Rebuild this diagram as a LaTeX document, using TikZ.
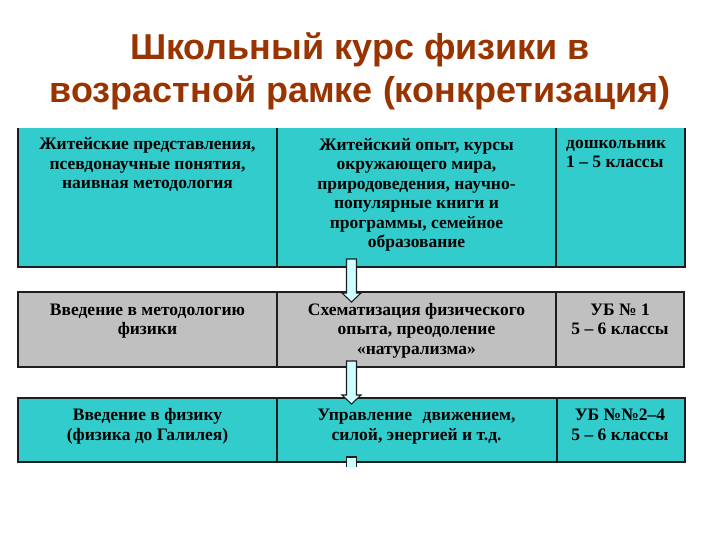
\documentclass[tikz,border=0pt]{standalone}
\usepackage{fontspec}
\setmainfont{Liberation Serif}
\newfontfamily\titlefont{Liberation Sans}
\usetikzlibrary{calc}
\definecolor{cellcyan}{RGB}{51,204,204}
\definecolor{cellgray}{RGB}{192,192,192}
\definecolor{arrowfill}{RGB}{204,255,255}
\definecolor{titlebrown}{RGB}{153,51,0}
\definecolor{edge}{RGB}{30,30,30}
\tikzset{
  cellbox/.style={inner sep=0pt, outer sep=0pt, anchor=north west},
  cyancell/.style={cellbox, fill=cellcyan},
  graycell/.style={cellbox, fill=cellgray},
  gridline/.style={draw=edge, line width=1.6pt},
  txt/.style={inner sep=0pt, align=center, text=black,
    font=\fontsize{17.5}{19.5}\selectfont\bfseries},
  titletxt/.style={inner sep=0pt, align=center, text=titlebrown,
    font=\fontsize{36}{43}\selectfont\titlefont\bfseries},
  blockarrow/.style={fill=arrowfill, draw=edge, line width=1.1pt, line join=miter}
}
\begin{document}
\begin{tikzpicture}[x=1pt,y=-1pt]
\useasboundingbox (0,0) rectangle (720,540);
\fill[white] (0,0) rectangle (720,540);

% title (base anchor = baseline of last line)
\node[titletxt, anchor=base] (title) at (360,103) {Школьный курс физики в\\возрастной рамке (конкретизация)};

% row 1
\node[cyancell, minimum width=259pt, minimum height=139pt] (r1c1) at (18,128) {};
\node[cyancell, minimum width=279pt, minimum height=139pt] (r1c2) at (277,128) {};
\node[cyancell, minimum width=129pt, minimum height=139pt] (r1c3) at (556,128) {};
\draw[gridline] (r1c1.north west) -- (r1c1.south west) -- (r1c3.south east) -- (r1c3.north east);
\draw[gridline] (r1c2.north west) -- (r1c2.south west);
\draw[gridline] (r1c3.north west) -- (r1c3.south west);

% row 2
\node[graycell, minimum width=259pt, minimum height=75pt] (r2c1) at (18,292) {};
\node[graycell, minimum width=279pt, minimum height=75pt] (r2c2) at (277,292) {};
\node[graycell, minimum width=128pt, minimum height=75pt] (r2c3) at (556,292) {};
\draw[gridline] (r2c1.north west) rectangle (r2c3.south east);
\draw[gridline] (r2c2.north west) -- (r2c2.south west);
\draw[gridline] (r2c3.north west) -- (r2c3.south west);

% row 3
\node[cyancell, minimum width=259pt, minimum height=64pt] (r3c1) at (18,398) {};
\node[cyancell, minimum width=280pt, minimum height=64pt] (r3c2) at (277,398) {};
\node[cyancell, minimum width=128pt, minimum height=64pt] (r3c3) at (557,398) {};
\draw[gridline] (r3c1.north west) rectangle (r3c3.south east);
\draw[gridline] (r3c2.north west) -- (r3c2.south west);
\draw[gridline] (r3c3.north west) -- (r3c3.south west);

% texts (positions are baselines of the last line)
\node[txt, anchor=base] (t11) at (147.5,189) {Житейские представления,\\псевдонаучные понятия,\\наивная методология};
\node[txt, anchor=base] (t12) at (416.5,247.5) {Житейский опыт, курсы\\окружающего мира,\\природоведения, научно-\\популярные книги и\\программы, семейное\\образование};
\node[txt, anchor=base west, align=left] (t13) at (566,168) {дошкольник\\1 – 5 классы};

\node[txt, anchor=base] (t21) at (147.5,334.5) {Введение в методологию\\физики};
\node[txt, anchor=base] (t22) at (416.5,354) {Схематизация физического\\опыта, преодоление\\«натурализма»};
\node[txt, anchor=base] (t23) at (620,334.5) {УБ № 1\\5 – 6 классы};

\node[txt, anchor=base] (t31) at (147.5,440) {Введение в физику\\(физика до Галилея)};
\node[txt, anchor=base] (t32) at (416.5,440) {Управление\hspace{0.6em}движением,\\силой, энергией и т.д.};
\node[txt, anchor=base] (t33) at (620,440) {УБ №№2–4\\5 – 6 классы};

% arrows
\coordinate (a1top) at ($(r1c2.south west)+(74.5,-8)$);
\coordinate (a1tip) at ($(r2c2.north west)+(74.5,10)$);
\coordinate (a2top) at ($(r2c2.south west)+(74.5,-6)$);
\coordinate (a2tip) at ($(r3c2.north west)+(74.5,6)$);
\coordinate (a3top) at ($(r3c2.south west)+(74.5,-5)$);
\coordinate (a3end) at ($(r3c2.south west)+(74.5,5)$);

\draw[blockarrow] let \p1=(a1top), \p2=(a1tip) in
  (\x1-5pt,\y1) -- (\x1+5pt,\y1) -- (\x1+5pt,\y2+9pt) -- (\x1+9.5pt,\y2+9pt)
  -- (\x2,\y2) -- (\x1-9.5pt,\y2+9pt) -- (\x1-5pt,\y2+9pt) -- cycle;
\draw[blockarrow] let \p1=(a2top), \p2=(a2tip) in
  (\x1-5pt,\y1) -- (\x1+5pt,\y1) -- (\x1+5pt,\y2+9pt) -- (\x1+9.5pt,\y2+9pt)
  -- (\x2,\y2) -- (\x1-9.5pt,\y2+9pt) -- (\x1-5pt,\y2+9pt) -- cycle;
\fill[arrowfill] let \p1=(a3top), \p2=(a3end) in
  (\x1-5pt,\y1) rectangle (\x1+5pt,\y2);
\draw[draw=edge, line width=1.1pt] let \p1=(a3top), \p2=(a3end) in
  (\x1-5pt,\y2) -- (\x1-5pt,\y1) -- (\x1+5pt,\y1) -- (\x1+5pt,\y2);
\end{tikzpicture}
\end{document}
